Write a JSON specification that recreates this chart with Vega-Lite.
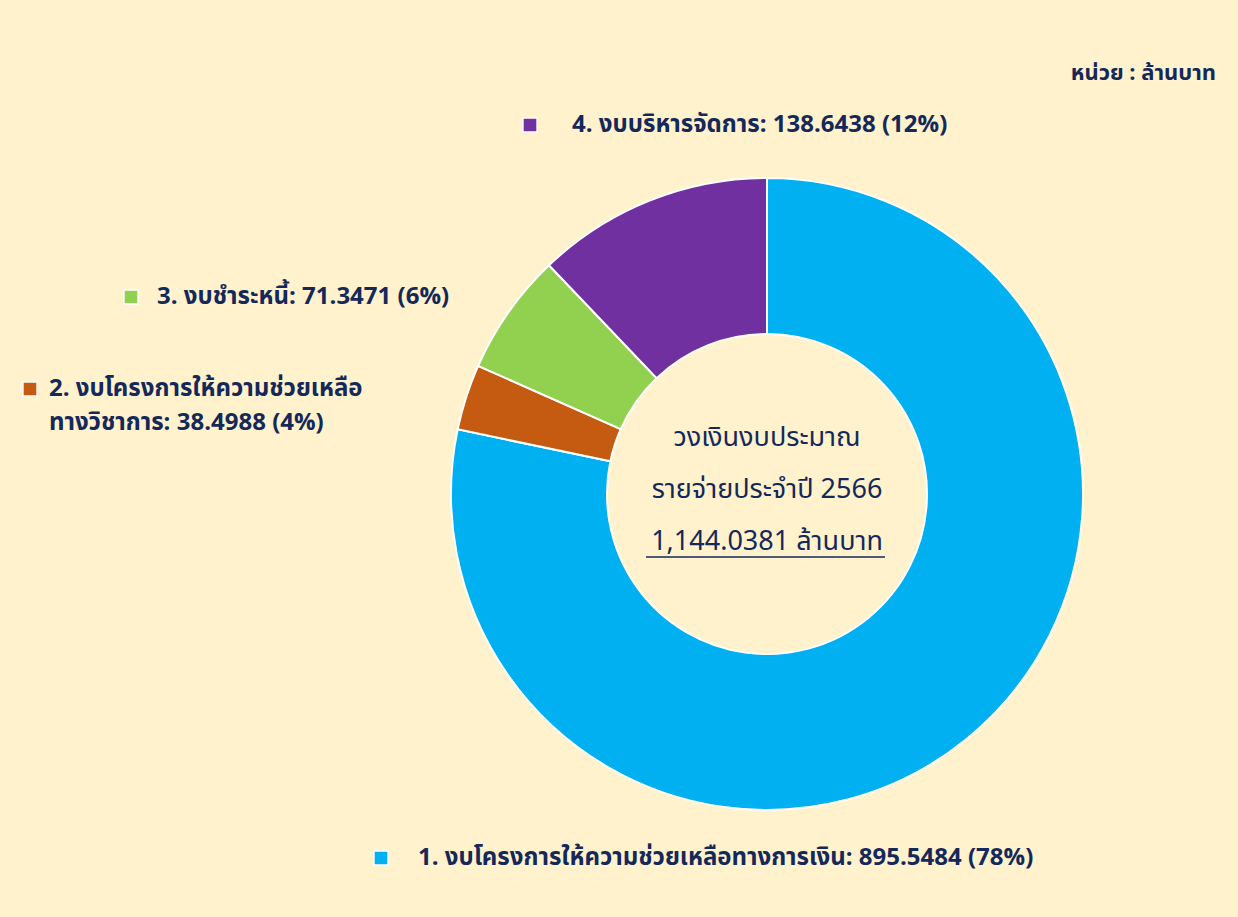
{
  "$schema": "https://vega.github.io/schema/vega-lite/v6.json",
  "autosize": "none",
  "width": 942,
  "height": 846,
  "padding": {"left": 296, "top": 71, "right": 0, "bottom": 0},
  "background": "#FFF2CC",
  "config": {"view": {"stroke": null}, "font": "Noto Sans Thai, Tahoma, Noto Sans, sans-serif"},
  "data": {
    "values": [
      {"order": 1, "category": "งบโครงการให้ความช่วยเหลือทางการเงิน", "value": 895.5484, "label": "1. งบโครงการให้ความช่วยเหลือทางการเงิน:  895.5484 (78%)"},
      {"order": 2, "category": "งบโครงการให้ความช่วยเหลือทางวิชาการ", "value": 38.4988, "label": "2. งบโครงการให้ความช่วยเหลือ\nทางวิชาการ: 38.4988 (4%)"},
      {"order": 3, "category": "งบชำระหนี้", "value": 71.3471, "label": "3. งบชำระหนี้: 71.3471 (6%)"},
      {"order": 4, "category": "งบบริหารจัดการ", "value": 138.6438, "label": "4. งบบริหารจัดการ: 138.6438 (12%)"}
    ]
  },
  "layer": [
    {
      "mark": {"type": "arc", "outerRadius": 316, "innerRadius": 160, "stroke": "#FFFFFF", "strokeWidth": 2},
      "encoding": {
        "theta": {"field": "value", "type": "quantitative", "stack": true},
        "order": {"field": "order", "type": "quantitative"},
        "color": {
          "field": "category", "type": "nominal",
          "scale": {"domain": ["งบโครงการให้ความช่วยเหลือทางการเงิน", "งบโครงการให้ความช่วยเหลือทางวิชาการ", "งบชำระหนี้", "งบบริหารจัดการ"], "range": ["#00B0F0", "#C55A11", "#92D050", "#7030A0"]},
          "legend": null
        }
      }
    },
    {
      "mark": {"type": "point", "shape": "square", "size": 200, "filled": true, "stroke": "#FFFFFF", "strokeWidth": 1.5, "opacity": 1},
      "encoding": {
        "x": {"field": "order", "type": "quantitative", "axis": null, "scale": {"domain": [1, 2, 3, 4], "range": [85, -266, -165, 234], "nice": false, "zero": false}},
        "y": {"field": "order", "type": "quantitative", "axis": null, "scale": {"domain": [1, 2, 3, 4], "range": [787, 318, 226, 54], "nice": false, "zero": false}},
        "color": {"field": "category", "type": "nominal", "legend": null}
      }
    },
    {
      "mark": {"type": "text", "align": "left", "baseline": "middle", "fontSize": 24, "fontWeight": "bold", "color": "#14285A", "lineBreak": "\n", "lineHeight": 34},
      "encoding": {
        "x": {"field": "order", "type": "quantitative", "axis": null, "scale": {"domain": [1, 2, 3, 4], "range": [122, -247, -139, 276], "nice": false, "zero": false}},
        "y": {"field": "order", "type": "quantitative", "axis": null, "scale": {"domain": [1, 2, 3, 4], "range": [787, 318, 226, 54], "nice": false, "zero": false}},
        "text": {"field": "label", "type": "nominal"}
      }
    },
    {
      "data": {"values": [{"t": "วงเงินงบประมาณ\nรายจ่ายประจำปี 2566\n1,144.0381 ล้านบาท"}]},
      "mark": {"type": "text", "align": "center", "baseline": "middle", "fontSize": 27, "color": "#14285A", "lineBreak": "\n", "lineHeight": 52, "dy": -56},
      "encoding": {"text": {"field": "t", "type": "nominal"}}
    },
    {
      "data": {"values": [{"t": "underline"}]},
      "mark": {"type": "rule", "color": "#14285A", "strokeWidth": 1.5},
      "encoding": {
        "x": {"value": {"expr": "width/2-121"}},
        "x2": {"value": {"expr": "width/2+118"}},
        "y": {"value": {"expr": "height/2+63"}}
      }
    },
    {
      "data": {"values": [{"t": "หน่วย : ล้านบาท"}]},
      "mark": {"type": "text", "align": "right", "baseline": "middle", "fontSize": 22, "fontWeight": "bold", "color": "#14285A", "x": {"expr": "width-22"}, "y": 2},
      "encoding": {"text": {"field": "t", "type": "nominal"}}
    }
  ],
  "resolve": {"scale": {"x": "independent", "y": "independent"}}
}
